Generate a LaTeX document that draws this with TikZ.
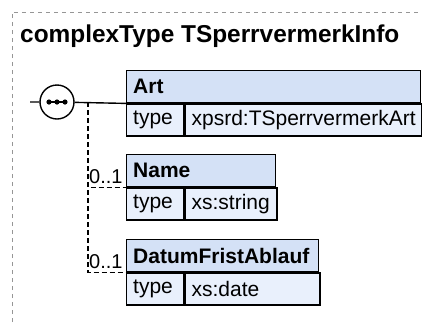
\documentclass[tikz,border=0pt]{standalone}
\usepackage{fontspec}
\setmainfont{Liberation Sans}
\usetikzlibrary{positioning}
\definecolor{hdrblue}{RGB}{212,225,246}
\definecolor{rowblue}{RGB}{233,240,252}
\definecolor{framegray}{RGB}{150,150,150}

\begin{document}
\begin{tikzpicture}[x=1pt,y=-1pt]
    \tikzstyle{hdr}=[draw, line width=1.4pt, fill=hdrblue, anchor=north west,
        minimum height=32pt, inner xsep=6.5pt, inner ysep=0pt, align=left,
        font=\fontsize{21}{25}\bfseries]
    \tikzstyle{cell}=[hdr, fill=rowblue, font=\fontsize{21}{25}\mdseries]
    \tikzstyle{opt}=[dash pattern=on 5pt off 3pt, line width=1.3pt]
    \tikzstyle{card}=[anchor=base west, inner sep=0pt, font=\fontsize{20}{24}\selectfont]

    \useasboundingbox (0,0) rectangle (422,322);
    \draw[framegray, dash pattern=on 4pt off 4pt, line width=0.8pt] (12,330) -- (12,12) -- (430,12);
    \node[anchor=base west, inner sep=0pt, font=\fontsize{24.4}{28}\bfseries] (title) at (20,42) {complexType TSperrvermerkInfo};

    % elements
    \node[hdr, text width=281pt] (art) at (126,70) {Art};
    \node[cell, text width=44pt] (arttype) at (art.south west) {type};
    \node[cell, text width=224pt] (artval) at (arttype.north east) {xpsrd:TSperrvermerkArt};

    \node[hdr, text width=136pt] (name) at (126,154) {Name};
    \node[cell, text width=44pt] (nametype) at (name.south west) {type};
    \node[cell, text width=79pt] (nameval) at (nametype.north east) {xs:string};

    \node[hdr, text width=179pt] (datum) at (126,239) {DatumFristAblauf};
    \node[cell, text width=44pt] (datumtype) at (datum.south west) {type};
    \node[cell, text width=122pt] (datumval) at (datumtype.north east) {xs:date};

    % sequence
    \node[draw, circle, line width=1.4pt, fill=white, minimum size=34pt, inner sep=0pt] (seq) at (57,102) {};
    \draw[line width=1.2pt] ([xshift=-8pt]seq.center) -- ([xshift=8pt]seq.center);
    \foreach \i in {-8,0,8}
        \fill (seq.center) ++(\i,0) circle (2.6pt);
    \coordinate (in) at (30,102);
    \coordinate (fork) at (88,102);
    \draw[line width=1.4pt] (in) -- (seq) (seq) -- (art.south west);
    \draw[opt] (fork) |- (name.south west);
    \draw[opt] (fork) |- (datum.south west);
    \node[card] (namecard) at (89,183) {0..1};
    \node[card] (datumcard) at (89,268) {0..1};
\end{tikzpicture}
\end{document}
